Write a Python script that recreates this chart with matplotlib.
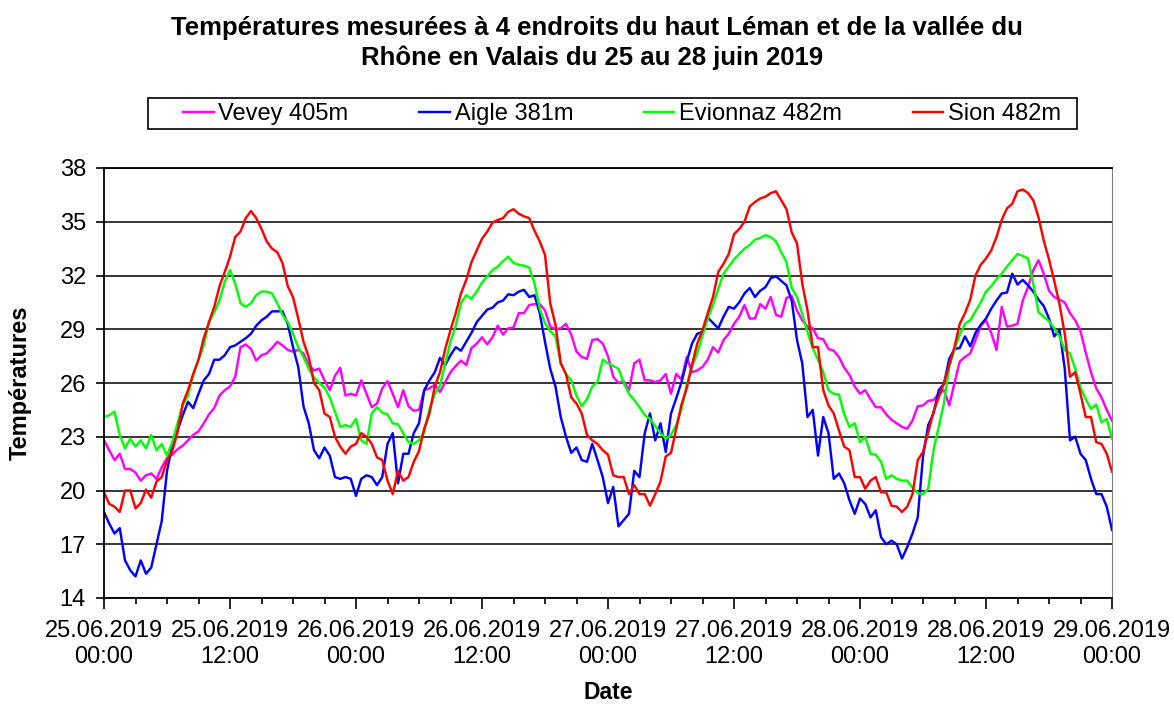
import matplotlib
matplotlib.use("Agg")
import matplotlib.pyplot as plt
import matplotlib.dates as mdates
from matplotlib.patches import Rectangle
import pandas as pd

plt.rcParams['font.family'] = ['Liberation Sans', 'DejaVu Sans']

# readings every 30 min, 25.06.2019 00:00 -> 29.06.2019 00:00 (one row = 16 h)
times = pd.date_range("2019-06-25 00:00", "2019-06-29 00:00", freq="30min")

vevey = [22.8, 22.25, 21.7, 22.05, 21.2, 21.2, 21.0, 20.55, 20.85, 20.95, 20.65, 21.3, 21.8, 22.0, 22.3, 22.5,
         22.8, 23.1, 23.3, 23.75, 24.25, 24.6, 25.3, 25.6, 25.8, 26.35, 28.0, 28.15, 27.9, 27.25, 27.55, 27.65,
         27.95, 28.3, 28.1, 27.85, 27.75, 27.85, 27.65, 27.0, 26.7, 26.8, 26.15, 25.6, 26.4, 26.85, 25.3, 25.4,
         25.3, 26.15, 25.4, 24.65, 24.85, 25.7, 26.1, 25.4, 24.65, 25.6, 24.7, 24.45, 24.5, 25.6, 25.7, 25.9,
         25.5, 26.05, 26.6, 26.95, 27.25, 27.0, 27.95, 28.2, 28.55, 28.15, 28.55, 29.2, 28.7, 29.05, 29.1, 29.9,
         29.9, 30.35, 30.4, 30.4, 30.05, 29.15, 29.0, 29.05, 29.3, 28.7, 27.75, 27.45, 27.35, 28.4, 28.45, 28.2,
         27.5, 26.35, 26.0, 26.1, 25.6, 27.1, 27.3, 26.15, 26.15, 26.05, 26.15, 26.5, 25.4, 26.5, 26.2, 27.45,
         26.6, 26.7, 26.9, 27.3, 28.0, 27.7, 28.4, 28.75, 29.3, 29.7, 30.35, 29.6, 29.6, 30.4, 30.15, 30.8,
         29.8, 29.7, 30.75, 30.85, 30.05, 29.5, 29.15, 29.05, 28.5, 28.45, 27.9, 27.8, 27.45, 26.85, 26.45, 25.8,
         25.4, 25.6, 25.1, 24.65, 24.65, 24.25, 23.95, 23.75, 23.55, 23.45, 23.9, 24.7, 24.75, 25.0, 25.05, 25.4,
         25.6, 24.75, 26.0, 27.2, 27.45, 27.65, 28.4, 29.2, 29.5, 28.8, 27.85, 30.25, 29.15, 29.2, 29.3, 30.6,
         31.35, 32.3, 32.85, 32.1, 31.15, 30.8, 30.65, 30.5, 29.9, 29.5, 28.9, 27.7, 26.6, 25.7, 25.2, 24.5,
         23.9]

aigle = [18.8, 18.15, 17.6, 17.9, 16.1, 15.55, 15.2, 16.1, 15.35, 15.7, 17.0, 18.3, 21.1, 22.5, 23.35, 24.2,
         24.95, 24.6, 25.4, 26.15, 26.5, 27.3, 27.3, 27.55, 28.0, 28.1, 28.3, 28.5, 28.75, 29.2, 29.5, 29.7,
         30.0, 30.0, 30.0, 29.3, 28.0, 26.9, 24.7, 23.75, 22.25, 21.8, 22.4, 21.95, 20.75, 20.65, 20.75, 20.65,
         19.7, 20.65, 20.85, 20.75, 20.3, 20.75, 22.6, 23.2, 20.4, 22.05, 22.05, 23.2, 23.75, 25.6, 26.15, 26.6,
         27.4, 27.0, 27.55, 28.0, 27.8, 28.3, 28.8, 29.4, 29.75, 30.1, 30.2, 30.5, 30.6, 30.95, 30.9, 31.1,
         31.2, 30.8, 30.9, 29.9, 28.3, 26.8, 25.8, 24.1, 23.0, 22.1, 22.4, 21.7, 21.6, 22.6, 21.7, 20.75,
         19.3, 20.2, 18.0, 18.35, 18.7, 21.1, 20.75, 23.2, 24.3, 22.8, 23.75, 22.15, 24.3, 25.15, 26.05, 27.2,
         28.2, 28.75, 28.85, 29.65, 29.35, 29.05, 29.7, 30.25, 30.15, 30.5, 31.0, 31.3, 30.8, 31.15, 31.35, 31.85,
         31.95, 31.7, 31.45, 30.6, 28.4, 27.1, 24.1, 24.5, 21.95, 24.1, 23.2, 20.65, 20.95, 20.4, 19.45, 18.7,
         19.55, 19.25, 18.5, 18.9, 17.4, 17.0, 17.2, 17.0, 16.2, 16.85, 17.6, 18.5, 21.9, 23.65, 24.3, 25.6,
         25.95, 27.35, 27.9, 27.95, 28.6, 28.05, 28.8, 29.25, 29.6, 30.15, 30.6, 31.0, 31.05, 32.1, 31.5, 31.75,
         31.45, 31.1, 30.65, 30.3, 29.6, 28.6, 28.95, 26.8, 22.8, 23.0, 22.05, 21.7, 20.65, 19.8, 19.8, 19.1,
         17.8]

evionnaz = [24.1, 24.2, 24.4, 23.1, 22.35, 22.9, 22.45, 22.8, 22.35, 23.1, 22.25, 22.6, 21.95, 22.7, 23.75, 24.75,
            25.3, 26.5, 27.3, 28.1, 29.4, 29.95, 30.6, 31.65, 32.3, 31.55, 30.45, 30.25, 30.45, 30.9, 31.1, 31.1,
            31.0, 30.45, 29.8, 29.4, 28.75, 28.0, 27.45, 26.8, 26.3, 26.0, 25.75, 25.2, 24.4, 23.55, 23.65, 23.55,
            24.0, 22.8, 22.6, 24.3, 24.65, 24.35, 24.25, 23.75, 23.7, 23.2, 22.7, 22.6, 22.8, 23.25, 24.55, 25.4,
            25.85, 27.1, 28.3, 29.2, 30.45, 30.9, 30.7, 31.1, 31.6, 31.95, 32.3, 32.5, 32.8, 33.05, 32.7, 32.6,
            32.55, 32.45, 31.55, 30.15, 29.35, 28.9, 28.6, 27.1, 26.5, 26.15, 25.3, 24.7, 25.1, 25.8, 26.05, 27.3,
            27.1, 26.95, 26.8, 26.0, 25.4, 25.05, 24.65, 24.2, 24.0, 23.6, 23.2, 22.9, 23.1, 23.65, 24.55, 25.9,
            26.9, 27.65, 28.65, 29.6, 30.35, 31.25, 32.1, 32.5, 32.9, 33.2, 33.5, 33.7, 34.0, 34.1, 34.25, 34.15,
            33.9, 33.3, 32.75, 31.3, 30.8, 29.85, 28.85, 27.95, 27.3, 26.6, 25.6, 25.4, 25.35, 24.25, 23.55, 23.75,
            22.7, 23.0, 22.05, 22.0, 21.6, 20.65, 20.85, 20.65, 20.55, 20.55, 20.15, 19.85, 19.8, 20.1, 22.25, 23.55,
            24.9, 26.9, 27.9, 28.7, 29.3, 29.5, 30.0, 30.5, 31.1, 31.4, 31.8, 32.1, 32.5, 32.85, 33.2, 33.1,
            32.95, 31.55, 29.95, 29.7, 29.45, 29.05, 28.6, 27.85, 27.65, 26.8, 25.75, 25.1, 24.55, 24.8, 23.8, 24.0,
            22.9]

sion = [19.9, 19.25, 19.1, 18.8, 20.0, 20.0, 19.0, 19.3, 20.05, 19.6, 20.5, 20.75, 21.7, 22.2, 23.25, 24.85,
        25.6, 26.5, 27.3, 28.5, 29.4, 30.25, 31.4, 32.2, 33.05, 34.15, 34.45, 35.2, 35.6, 35.2, 34.6, 33.9,
        33.5, 33.3, 32.7, 31.4, 30.8, 29.6, 28.3, 27.45, 26.0, 25.6, 24.3, 24.1, 23.0, 22.45, 22.05, 22.45,
        22.6, 23.2, 23.0, 22.6, 21.85, 21.7, 20.55, 19.8, 21.1, 20.55, 20.75, 21.6, 22.2, 23.45, 24.3, 25.8,
        26.6, 27.9, 28.95, 29.9, 31.0, 31.75, 32.75, 33.4, 34.05, 34.45, 34.95, 35.1, 35.2, 35.55, 35.7, 35.45,
        35.3, 35.2, 34.5, 33.9, 33.15, 30.45, 29.25, 27.1, 26.5, 25.2, 24.85, 24.3, 23.1, 22.8, 22.6, 22.25,
        22.0, 20.85, 20.75, 20.75, 19.8, 20.3, 19.8, 19.8, 19.15, 19.8, 20.5, 21.9, 22.1, 23.45, 24.8, 25.7,
        27.0, 28.2, 28.95, 29.9, 30.8, 32.2, 32.65, 33.2, 34.3, 34.6, 35.0, 35.85, 36.1, 36.3, 36.4, 36.6,
        36.7, 36.2, 35.7, 34.4, 33.8, 31.55, 30.05, 28.0, 28.0, 25.6, 24.75, 24.3, 23.35, 22.45, 22.25, 20.75,
        20.75, 20.1, 20.55, 20.75, 19.9, 19.9, 19.15, 19.1, 18.8, 19.1, 19.8, 21.7, 22.15, 23.25, 24.4, 25.2,
        26.0, 27.0, 28.0, 29.3, 29.9, 30.65, 32.0, 32.6, 32.95, 33.4, 34.15, 35.1, 35.75, 36.0, 36.7, 36.8,
        36.6, 36.2, 35.25, 33.95, 32.9, 31.7, 30.4, 28.75, 26.35, 26.6, 25.4, 24.1, 24.1, 22.7, 22.6, 22.05,
        21.05]

series = [("Vevey 405m", vevey, "#FF00FF"),
          ("Aigle 381m", aigle, "#0000FF"),
          ("Evionnaz 482m", evionnaz, "#00FF00"),
          ("Sion 482m", sion, "#FF0000")]

W, H = 1174, 707
fig = plt.figure(figsize=(W / 100, H / 100), dpi=100)
ax = fig.add_axes([104 / W, 1 - 598 / H, 1008 / W, 430 / H])

for name, vals, col in series:
    ax.plot(times, vals, color=col, lw=1.75, label=name)

ax.set_xlim(times[0], times[-1])
ax.set_ylim(14, 38)
ax.set_yticks(range(14, 39, 3))
ax.yaxis.grid(True, color="black", lw=1.1)
ax.set_axisbelow(True)

ax.xaxis.set_major_locator(mdates.HourLocator(byhour=[0, 12]))
ax.xaxis.set_minor_locator(mdates.HourLocator(byhour=range(0, 24, 3)))
ax.xaxis.set_major_formatter(mdates.DateFormatter("%d.%m.%Y\n%H:%M"))
ax.tick_params(axis="x", which="major", length=8, width=1.2, labelsize=17, pad=8)
ax.tick_params(axis="x", which="minor", length=4, width=1.2)
ax.tick_params(axis="y", length=6, width=1.2, labelsize=17, pad=7)
for lbl in ax.get_xticklabels():
    lbl.set_horizontalalignment("center")

for s in ["left", "bottom", "top"]:
    ax.spines[s].set_linewidth(1.3)
ax.spines["right"].set_color("#808080")

ax.set_xlabel("Date", fontsize=16.5, fontweight="bold")
ax.xaxis.set_label_coords(0.5, (598 - 681) / 430)
ax.set_ylabel("Températures", fontsize=17, fontweight="bold")
ax.yaxis.set_label_coords((32 - 104) / 1008, 0.5)

fig.text(597 / W, 1 - 28 / H, "Températures mesurées à 4 endroits du haut Léman et de la vallée du",
         fontsize=18.5, fontweight="bold", ha="center", va="center")
fig.text(592 / W, 1 - 58 / H, "Rhône en Valais du 25 au 28 juin 2019",
         fontsize=18.5, fontweight="bold", ha="center", va="center")

# legend box, entries spread inside it
fig.patches.append(Rectangle((148.5 / W, 1 - 129 / H), 928.5 / W, 31 / H,
                             transform=fig.transFigure, fill=False,
                             edgecolor="black", lw=1.2))
ax.legend(loc="center left", ncol=4, mode="expand",
          bbox_to_anchor=(183 / W, 1 - 114 / H, 878 / W, 0),
          bbox_transform=fig.transFigure, fontsize=17, frameon=False,
          handlelength=1.3, handletextpad=0.2, borderpad=0, borderaxespad=0)

fig.savefig("out.png", dpi=100)
